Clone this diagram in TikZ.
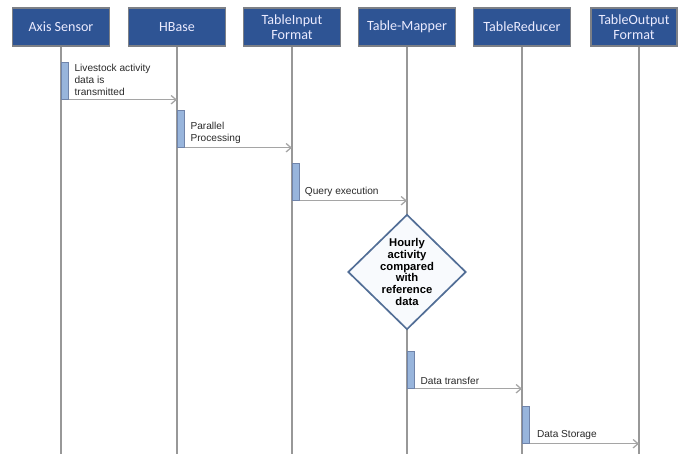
\documentclass[tikz,border=0pt]{standalone}
\usepackage{fontspec}
\setmainfont{Liberation Sans}
\newfontfamily\headfont{Carlito}
\usetikzlibrary{shapes.geometric,arrows.meta}
\definecolor{headblue}{RGB}{46,84,148}
\definecolor{headedge}{RGB}{125,128,134}
\definecolor{lifegray}{RGB}{152,152,152}
\definecolor{msggray}{RGB}{165,165,165}
\definecolor{barfill}{RGB}{152,181,220}
\definecolor{baredge}{RGB}{112,132,170}
\definecolor{decedge}{RGB}{82,110,150}
\definecolor{decfill}{RGB}{248,250,253}
\definecolor{lbltext}{RGB}{40,40,40}

\begin{document}
\begin{tikzpicture}[x=0.025cm,y=-0.025cm]
	\tikzstyle{every node}+=[inner sep=0pt]
	\tikzstyle{head}=[draw=headedge, line width=1pt, fill=headblue, text=white!92!blue,
		minimum width=2.425cm, minimum height=0.95cm, align=center,
		font=\headfont\fontsize{10}{10.5}\selectfont]
	\tikzstyle{life}=[draw=lifegray, line width=1.2pt]
	\tikzstyle{actbar}=[draw=baredge, line width=0.5pt, fill=barfill, anchor=north west,
		minimum width=0.175cm, minimum height=0.925cm]
	\tikzstyle{msg}=[draw=msggray, line width=0.9pt, -{Straight Barb[length=3.5pt,width=6pt]}]
	\tikzstyle{lbl}=[anchor=south west, align=left, text=lbltext,
		font=\fontsize{7.2}{8.5}\selectfont]
	\tikzstyle{decide}=[diamond, draw=decedge, line width=1.2pt, fill=decfill,
		minimum width=2.95cm, minimum height=2.875cm]
	\useasboundingbox (0,0) rectangle (678,454);

	% participants
	\node [head] (axis) at (61,27) {Axis Sensor};
	\node [head] (hbase) at (177,27) {HBase};
	\node [head] (tin) at (292,27) {TableInput\\Format};
	\node [head] (mapper) at (407,27) {Table-Mapper};
	\node [head] (reducer) at (522,27) {TableReducer};
	\node [head, minimum width=2.15cm] (tout) at (634,27) {TableOutput\\Format};

	% lifelines
	\coordinate (lAxis) at (61,454);
	\coordinate (lHbase) at (177,454);
	\coordinate (lTin) at (292,454);
	\coordinate (lMapper) at (407,454);
	\coordinate (lReducer) at (522,454);
	\coordinate (lTout) at (639,454);
	\draw [life] (axis.south) -- (lAxis);
	\draw [life] (hbase.south) -- (lHbase);
	\draw [life] (tin.south) -- (lTin);
	\draw [life] (mapper.south) -- (lMapper);
	\draw [life] (reducer.south) -- (lReducer);
	\draw [life] (tout.south -| lTout) -- (lTout);

	% comparison step
	\node [decide] (cmp) at (407,272) {};
	\node [align=center, text=black, font=\bfseries\fontsize{8}{8.4}\selectfont] (cmpText) at (cmp)
		{Hourly\\activity\\compared\\with\\reference\\data};

	% activations and messages
	\node [actbar] (bAxis) at (61,62) {};
	\draw [msg] (bAxis.south east) -- (bAxis.south east -| lHbase);
	\node [lbl] (tAxis) at ([xshift=4pt,yshift=3pt]bAxis.south east) {Livestock activity\\data is\\transmitted};

	\node [actbar] (bHbase) at (177,110) {};
	\draw [msg] (bHbase.south east) -- (bHbase.south east -| lTin);
	\node [lbl] (tHbase) at ([xshift=4pt,yshift=3pt]bHbase.south east) {Parallel\\Processing};

	\node [actbar] (bTin) at (292,163) {};
	\draw [msg] (bTin.south east) -- (bTin.south east -| lMapper);
	\node [lbl] (tTin) at ([xshift=3.5pt,yshift=3pt]bTin.south east) {Query execution};

	\node [actbar] (bMapper) at (407,351) {};
	\draw [msg] (bMapper.south east) -- (bMapper.south east -| lReducer);
	\node [lbl] (tMapper) at ([xshift=4pt,yshift=3pt]bMapper.south east) {Data transfer};

	\node [actbar] (bReducer) at (522,406) {};
	\draw [msg] (bReducer.south east) -- (bReducer.south east -| lTout);
	\node [lbl] (tReducer) at ([xshift=5pt,yshift=3pt]bReducer.south east) {Data Storage};
\end{tikzpicture}
\end{document}
